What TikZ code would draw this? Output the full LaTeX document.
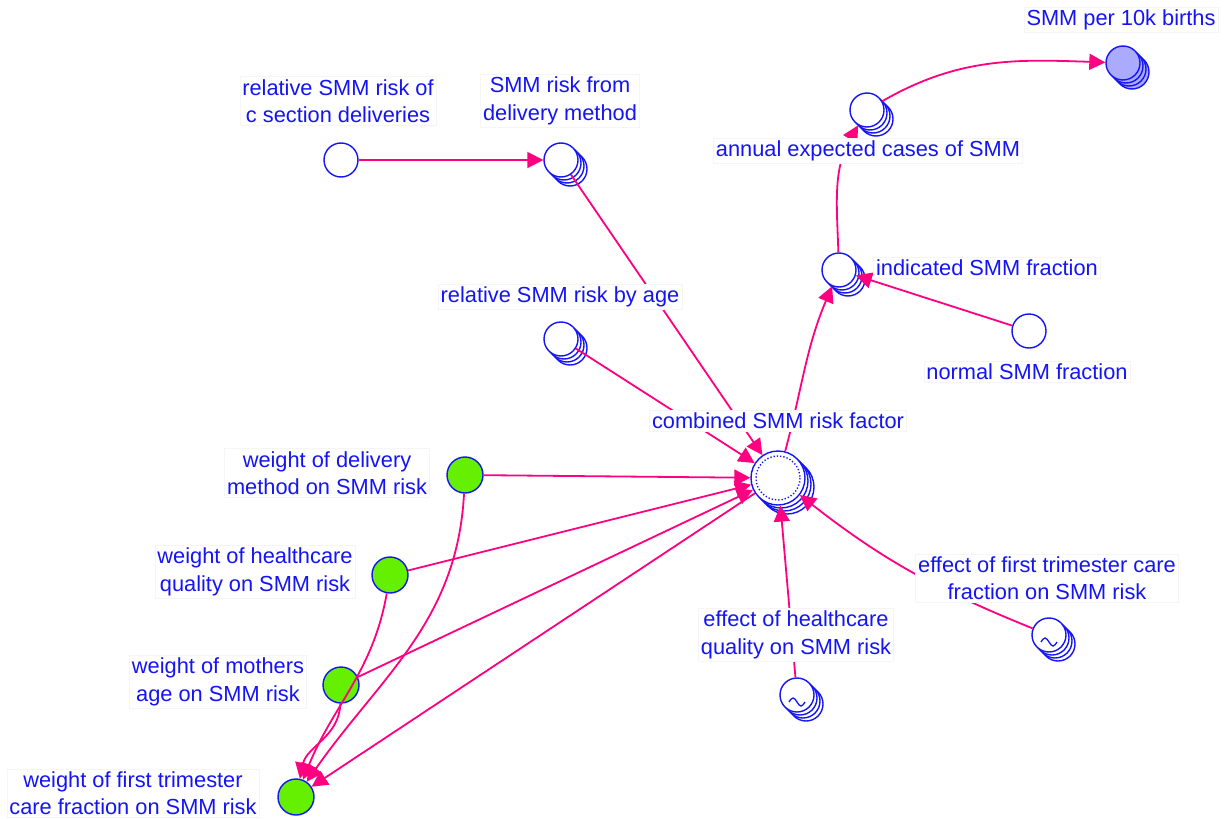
\documentclass[tikz,border=0pt]{standalone}
\usepackage{fontspec}
\setmainfont{Liberation Sans}
\usetikzlibrary{arrows.meta}
\definecolor{nblue}{RGB}{20,20,245}
\definecolor{linkc}{RGB}{255,0,128}
\definecolor{wgreen}{RGB}{100,240,0}
\definecolor{outfill}{RGB}{170,170,255}

\tikzset{
  var/.style={circle, draw=nblue, line width=1.4pt, fill=white, minimum size=34pt, inner sep=0pt},
  bigvar/.style={minimum size=54pt},
  wvar/.style={var, fill=wgreen, minimum size=36pt},
  lbl/.style={text=nblue, fill=white, draw=black!4, line width=0.5pt, align=center,
              inner sep=2.5pt, font=\fontsize{21.8}{27.5}\selectfont},
  flow/.style={draw=linkc, line width=1.8pt, -{Triangle[length=16pt,width=16pt]}},
}

% a variable drawn as a stack of circles: [style]{name}{x}{y}
\newcommand\stackvar[4][]{%
  \foreach \k in {3,2,1}{\node[var,#1] (#2-\k) at ({#3+3*\k},{#4+3*\k}) {};}
  \node[var,#1] (#2) at (#3,#4) {};
}
% lookup sign inside a variable
\newcommand\tildemark[1]{%
  \draw[nblue, line width=1.3pt] ([shift={(-8,7)}]#1.center) sin ++(4,-4) cos ++(4,4) sin ++(4,4) cos ++(4,-4);
}

\begin{document}
\begin{tikzpicture}[x=1pt,y=-1pt]
\fill[white] (0,0) rectangle (1227,819);
\useasboundingbox (0,0) rectangle (1227,819);

% variables
\node[var] (cs) at (341,160) {};
\stackvar{srd}{561}{160}
\stackvar{rage}{561}{339}
\stackvar[bigvar]{comb}{778}{478}
\draw[nblue, line width=1.4pt, dash pattern=on 1.3pt off 2pt] (comb.center) circle[radius=22];
\stackvar{ind}{839}{270}
\node[var] (norm) at (1029,331) {};
\stackvar{ann}{867}{110}
\stackvar[fill=outfill]{smm}{1123}{63}
\node[wvar] (wd) at (465,475) {};
\node[wvar] (wh) at (390,575) {};
\node[wvar] (wm) at (341,685) {};
\node[wvar] (wf) at (296,797) {};
\stackvar{eh}{797}{695}
\tildemark{eh}
\stackvar{ef}{1049}{635}
\tildemark{ef}

% links
\draw[flow] (cs) -- (srd);
\draw[flow] (srd) -- (comb);
\draw[flow] (rage) -- (comb);
\draw[flow] (comb) to[out=75,in=-113] (ind);
\draw[flow] (norm) -- (ind);
\draw[flow] (ind) to[out=92,in=-120] (ann);
\draw[flow] (ann) to[out=30,in=178] (smm);
\draw[flow] (wd) -- (comb);
\draw[flow] (wh) -- (comb);
\draw[flow] (wm) -- (comb);
\draw[flow] (comb) -- (wf);
\draw[flow] (wd) to[out=-93,in=55] (wf);
\draw[flow] (wh) to[out=-100,in=68] (wf);
\draw[flow] (wm) to[out=-92,in=78] (wf);
\draw[flow] (eh) -- (comb);
\draw[flow] (ef) to[out=158,in=-38] (comb);

% labels
\node[lbl] (l-cs) at (338,101) {relative SMM risk of\\c section deliveries};
\node[lbl] (l-srd) at (560,101) {SMM risk from\\delivery method};
\node[lbl] (l-rage) at (560,297) {relative SMM risk by age};
\node[lbl] (l-comb) at (778,421) {combined SMM risk factor};
\node[lbl] (l-ind) at (987,268) {indicated SMM fraction};
\node[lbl] (l-norm) at (1027,372) {normal SMM fraction};
\node[lbl] (l-ann) at (868,151) {annual expected cases of SMM};
\node[lbl] (l-smm) at (1121,20) {SMM per 10k births};
\node[lbl] (l-wd) at (327,473) {weight of delivery\\method on SMM risk};
\node[lbl] (l-wh) at (255,572) {weight of healthcare\\quality on SMM risk};
\node[lbl] (l-wm) at (218,682) {weight of mothers\\age on SMM risk};
\node[lbl] (l-wf) at (133,793) {weight of first trimester\\care fraction on SMM risk};
\node[lbl] (l-eh) at (796,635) {effect of healthcare\\quality on SMM risk};
\node[lbl] (l-ef) at (1047,578) {effect of first trimester care\\fraction on SMM risk};
\end{tikzpicture}
\end{document}
